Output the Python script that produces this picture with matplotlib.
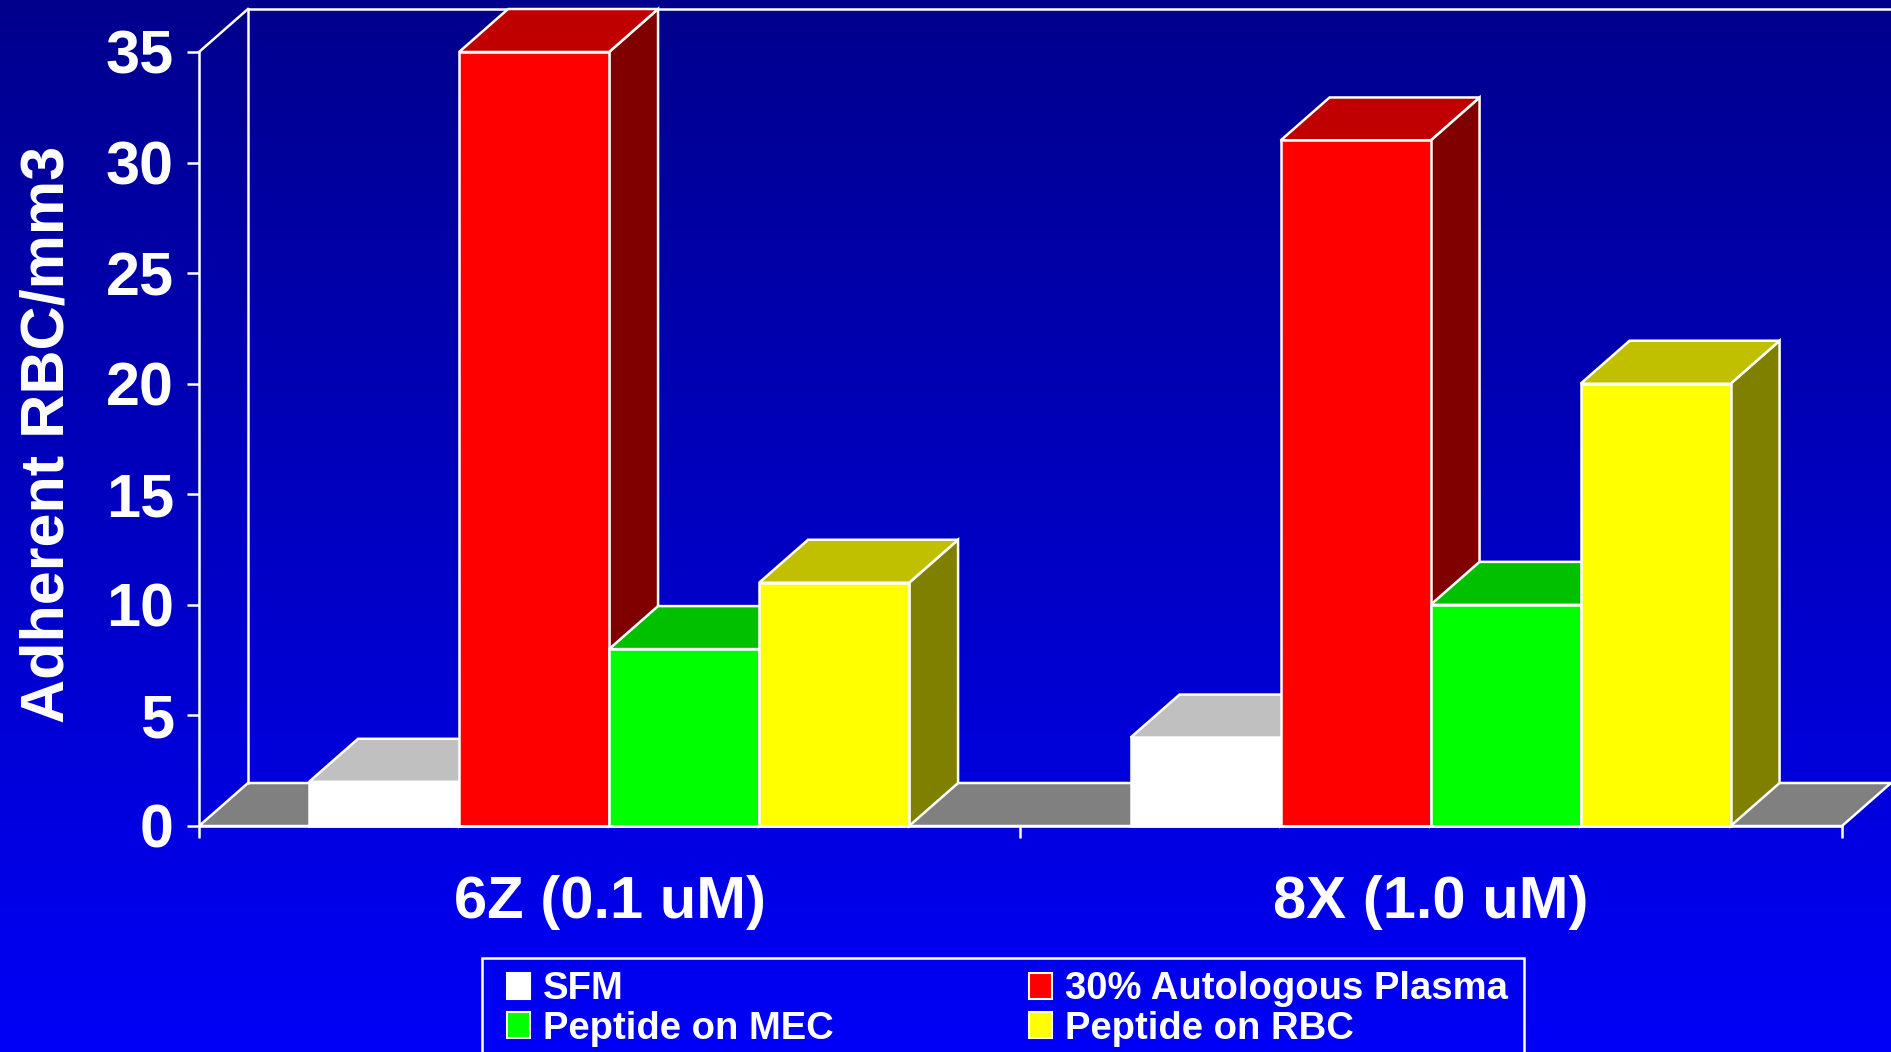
import numpy as np
import matplotlib
matplotlib.use('Agg')
import matplotlib.pyplot as plt
from matplotlib.patches import Polygon, Patch, Rectangle

# Data
categories = ['6Z (0.1 uM)', '8X (1.0 uM)']
series = ['SFM', '30% Autologous Plasma', 'Peptide on MEC', 'Peptide on RBC']
sfm = [2, 4]
plasma = [35, 31]
mec = [8, 10]
rbc = [11, 20]
yticks = [0, 5, 10, 15, 20, 25, 30, 35]

# Colours for the front, top and side faces of each series
front_colors = ['#FFFFFF', '#FF0000', '#00FF00', '#FFFF00']
top_colors = ['#C0C0C0', '#C00000', '#00C000', '#C0C000']
side_colors = ['#808080', '#800000', '#008000', '#808000']

plt.rcParams['font.family'] = ['Liberation Sans', 'DejaVu Sans']
plt.rcParams['font.weight'] = 'bold'

W, H = 1891, 1052
fig = plt.figure(figsize=(W / 100, H / 100), dpi=100)

# Gradient background, dark navy at the top to bright blue at the bottom
bg = fig.add_axes([0, 0, 1, 1], zorder=-10)
grad = np.linspace(0.55, 0.97, 256).reshape(-1, 1)
img = np.zeros((256, 1, 3))
img[:, :, 2] = grad[:, 0:1]
bg.imshow(img, aspect='auto', extent=[0, 1, 0, 1], origin='upper')
bg.axis('off')

ax = fig.add_axes([199 / W, (H - 826) / H, 1643 / W, 774 / H])
ax.patch.set_alpha(0)
ax.set_xlim(0, 2)
ax.set_ylim(0, 35)

# 3D depth offsets in data units
dx = 0.0596
dy = 1.944
lw = 1.8

# floor and walls
floor = Polygon([(0, 0), (2, 0), (2 + dx, dy), (dx, dy)], closed=True,
                facecolor='#808080', edgecolor='white', lw=lw, zorder=1, clip_on=False)
ax.add_patch(floor)
ax.plot([0, dx], [35, 35 + dy], color='white', lw=lw, clip_on=False, zorder=1)
ax.plot([dx, dx], [dy, 35 + dy], color='white', lw=lw, clip_on=False, zorder=1)
ax.plot([dx, 2 + dx], [35 + dy, 35 + dy], color='white', lw=lw, clip_on=False, zorder=1)

# bars: side and top faces first (left to right), fronts on top
bar_w = 0.1826
offset = 0.134
values = [sfm, plasma, mec, rbc]
for i in range(len(categories)):
    for j, vals in enumerate(values):
        x0 = i + offset + j * bar_w
        h = vals[i]
        x1 = x0 + bar_w
        side = Polygon([(x1, 0), (x1 + dx, dy), (x1 + dx, h + dy), (x1, h)], closed=True,
                       facecolor=side_colors[j], edgecolor='white', lw=lw, zorder=2, clip_on=False)
        top = Polygon([(x0, h), (x1, h), (x1 + dx, h + dy), (x0 + dx, h + dy)], closed=True,
                      facecolor=top_colors[j], edgecolor='white', lw=lw, zorder=2, clip_on=False)
        ax.add_patch(side)
        ax.add_patch(top)
for j, vals in enumerate(values):
    xs = [i + offset + j * bar_w for i in range(len(categories))]
    ax.bar(xs, vals, width=bar_w, align='edge', color=front_colors[j],
           edgecolor='white', lw=lw, zorder=3, clip_on=False)

# axes styling
for s in ['top', 'right']:
    ax.spines[s].set_visible(False)
for s in ['left', 'bottom']:
    ax.spines[s].set_color('white')
    ax.spines[s].set_linewidth(lw)
    ax.spines[s].set_zorder(4)
ax.set_yticks(yticks)
ax.set_xticks([0, 1, 2])
ax.set_xticklabels([])
ax.tick_params(axis='both', colors='white', length=8.6, width=lw, direction='out')
ax.tick_params(axis='y', labelsize=44, pad=9.4)
for lab in ax.get_yticklabels():
    lab.set_fontweight('bold')

for i, cat in enumerate(categories):
    ax.text(i + 0.5, -0.1189, cat, transform=ax.get_xaxis_transform(), ha='center',
            va='baseline', color='white', fontsize=43, fontweight='bold')

fig.text(64 / W, 1 - 434.5 / H, 'Adherent RBC/mm3', rotation=90, rotation_mode='anchor',
         ha='center', va='baseline', color='white', fontsize=44, fontweight='bold')

# legend: column-major order so the first column is SFM / MEC
order = [0, 2, 1, 3]
handles = [Patch(facecolor=front_colors[k], edgecolor='white', lw=1.5) for k in order]
labels = [series[k] for k in order]
fig.legend(handles, labels, ncol=2, loc='upper left', bbox_to_anchor=(507 / W, 1 - 971 / H),
           frameon=False, labelcolor='white', handlelength=0.6,
           handleheight=0.67, handletextpad=0.35, columnspacing=5.1, labelspacing=0.1,
           borderpad=0, borderaxespad=0, prop={'weight': 'bold', 'size': 27.5})
fig.patches.append(Rectangle((482 / W, -0.05), (1524 - 482) / W, 0.05 + (H - 958) / H,
                             transform=fig.transFigure, facecolor='none',
                             edgecolor='white', lw=lw))

fig.savefig('out.png', dpi=100)
